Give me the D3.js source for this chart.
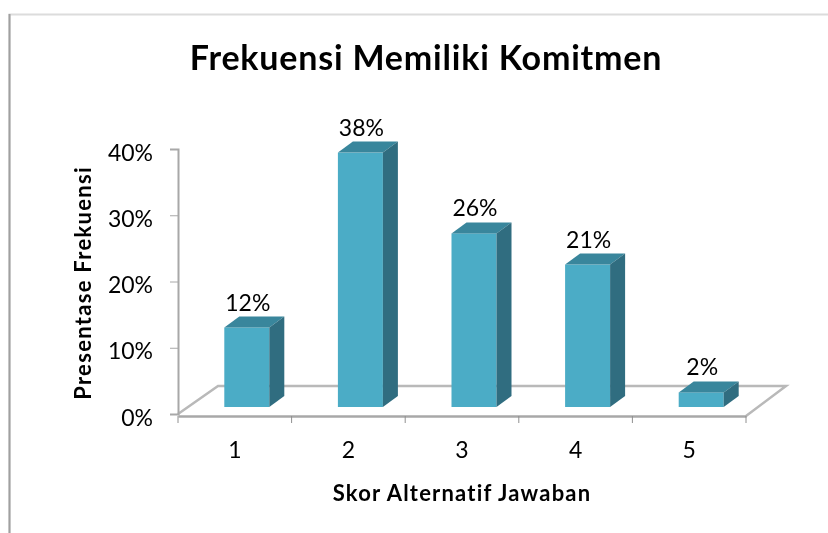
<!DOCTYPE html>
<html>
<head>
<meta charset="utf-8">
<script src="https://d3js.org/d3.v7.min.js"></script>
<style>
  html, body { margin: 0; background: #fff; }
  svg { display: block; filter: blur(0.45px); }
  text { font-family: Lato, "Open Sans", sans-serif; fill: #000; }
  .tick text { font-size: 23px; }
  .tick line, .domain { stroke: #a8a8a8; }
</style>
</head>
<body>
<svg id="chart" width="828" height="533"></svg>
<script>
const categories = ["1", "2", "3", "4", "5"];
// bar heights, labels as printed above them
const values = [12, 38.4, 26.2, 21.5, 2.2];
const valueLabels = ["12%", "38%", "26%", "21%", "2%"];
const yTicks = [0, 10, 20, 30, 40];

const svg = d3.select("svg#chart");

const x = d3.scaleBand().domain(categories).range([178, 746]);
const y = d3.scaleLinear().domain([0, 40]).range([414, 149]);

// 3d offsets of the chart floor and of the bars
const floorDx = 40, floorDy = -28;
const barDx = 15, barDy = -11;
const barW = 45, barShift = -12, barLift = 7;

// frame of the pasted picture
svg.append("path").attr("d", "M9.5,533V14.5H828")
  .attr("fill", "none").attr("stroke", "#dcdcdc").attr("stroke-width", 2);
svg.append("line").attr("x1", 9.5).attr("x2", 9.5).attr("y1", 14).attr("y2", 533)
  .attr("stroke", "#a0a0a0").attr("stroke-width", 2);

svg.append("text")
  .attr("x", 426).attr("y", 70)
  .attr("text-anchor", "middle")
  .attr("font-weight", "bold")
  .attr("font-size", 34)
  .attr("letter-spacing", 0.8)
  .text("Frekuensi Memiliki Komitmen");

// floor
svg.append("path")
  .attr("d", `M178,${y(0)}L${178 + floorDx},${y(0) + floorDy}H${746 + floorDx}L746,${y(0) + 2}`)
  .attr("fill", "none").attr("stroke", "#b9b9b9").attr("stroke-width", 2.5);

// y axis
const gy = svg.append("g")
  .attr("transform", "translate(178,0)")
  .call(d3.axisLeft(y).tickValues(yTicks).tickFormat(d => d + "%").tickSize(8).tickPadding(17));
gy.select(".domain").attr("stroke-width", 2);
gy.selectAll(".tick text").attr("dy", "0.48em");

// x axis, the ticks sit between the categories
const gx = svg.append("g")
  .attr("transform", `translate(0,${y(0) + 2})`)
  .call(d3.axisBottom(x).tickSize(0).tickPadding(26));
gx.select(".domain").attr("stroke", "#b9b9b9").attr("stroke-width", 2.5);
gx.selectAll(".tick text").attr("dy", "0.71em");
gx.selectAll("line.sep")
  .data([x(categories[0])].concat(categories.map(c => x(c) + x.step())))
  .enter().append("line")
  .attr("class", "sep")
  .attr("x1", d => d).attr("x2", d => d)
  .attr("y1", 0).attr("y2", 7)
  .attr("stroke", "#909090");

// bars
const bars = svg.append("g").selectAll("g")
  .data(categories.map((c, i) => ({c, v: values[i], label: valueLabels[i]})))
  .enter().append("g")
  .attr("transform", d => `translate(${x(d.c) + (x.step() - barW) / 2 - barShift},0)`);

const base = y(0) - barLift;

bars.append("rect")
  .attr("y", d => y(d.v) - barLift)
  .attr("width", barW)
  .attr("height", d => base - (y(d.v) - barLift))
  .attr("fill", "#4bacc6");

bars.append("path")
  .attr("d", d => {
    const t = y(d.v) - barLift;
    return `M0,${t}l${barDx},${barDy}h${barW}l${-barDx},${-barDy}z`;
  })
  .attr("fill", "#39869c");

bars.append("path")
  .attr("d", d => {
    const t = y(d.v) - barLift;
    return `M${barW},${t}l${barDx},${barDy}V${base + barDy}L${barW},${base}z`;
  })
  .attr("fill", "#306d80");

bars.append("text")
  .attr("x", barW / 2 + 1)
  .attr("y", d => y(d.v) - barLift - 17)
  .attr("text-anchor", "middle")
  .attr("font-size", 23)
  .text(d => d.label);

// axis titles
svg.append("text")
  .attr("x", 462).attr("y", 501)
  .attr("text-anchor", "middle")
  .attr("font-weight", "bold")
  .attr("font-size", 22)
  .attr("letter-spacing", 1.2)
  .text("Skor Alternatif Jawaban");

svg.append("text")
  .attr("transform", "translate(91,283) rotate(-90)")
  .attr("text-anchor", "middle")
  .attr("font-weight", "bold")
  .attr("font-size", 22)
  .attr("letter-spacing", 1.3)
  .text("Presentase Frekuensi");
</script>
</body>
</html>
